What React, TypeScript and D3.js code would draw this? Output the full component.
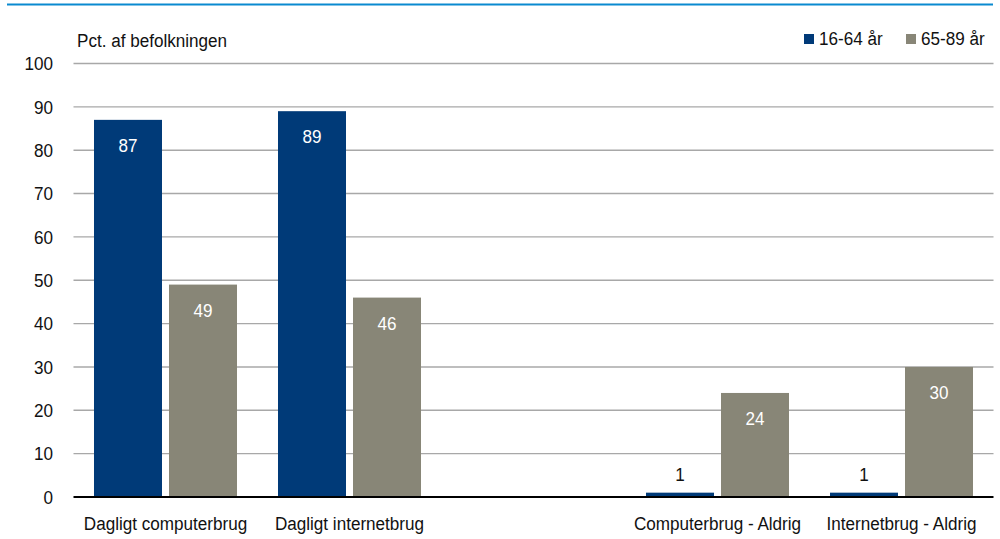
import * as d3 from "d3";

// chart data
const categories = ["Dagligt computerbrug", "Dagligt internetbrug", "", "Computerbrug - Aldrig", "Internetbrug - Aldrig"];
const seriesNames = ["16-64 år", "65-89 år"];
const young = [87, 89, null, 1, 1];
const old = [49, 46, null, 24, 30];
const yTicks = [0, 10, 20, 30, 40, 50, 60, 70, 80, 90, 100];

const colors = ["#003a78", "#888677"];
const font = "'Liberation Sans', Arial, sans-serif";

// the original text is a bit narrow, so squeeze it horizontally
const Label = ({ x, y, anchor = "start", fill = "#111", dy, children }: any) => (
  <text
    transform={`translate(${x},${y}) scale(0.9,1)`}
    textAnchor={anchor}
    fontSize={19}
    fill={fill}
    dy={dy}
  >
    {children}
  </text>
);

const App = () => {
  const width = 1000;
  const height = 539;
  const margin = { top: 63.5, right: 6.5, bottom: 42, left: 73.5 };

  const x0 = d3.scaleBand<string>()
    .domain(categories.map((c, i) => `${i}`))
    .range([margin.left, width - margin.right])
    .padding(0);

  const x1 = d3.scaleBand<string>()
    .domain(seriesNames)
    .range([0, x0.bandwidth()])
    .paddingInner(0.0933)
    .paddingOuter(0.2733);

  const y = d3.scaleLinear()
    .domain([0, 100])
    .range([height - margin.bottom, margin.top]);

  const series = [young, old];

  return (
    <svg width={width} height={height} style={{ position: "absolute", left: 0, top: 0 }} fontFamily={font}>
      <rect width={width} height={height} fill="#fff" />
      {/* top rule */}
      <line x1={7} x2={993} y1={4.5} y2={4.5} stroke="#0a8ad0" strokeWidth={2.2} />

      <Label x={77} y={47}>Pct. af befolkningen</Label>

      {/* gridlines + y ticks */}
      {yTicks.map(t => (
        <g key={t}>
          {t > 0 && (
            <line x1={margin.left} x2={width - margin.right} y1={y(t)} y2={y(t)} stroke="#a8a8a8" strokeWidth={1.4} />
          )}
          <Label x={53} y={y(t)} dy="0.36em" anchor="end">{t}</Label>
        </g>
      ))}

      {/* bars */}
      {categories.map((c, i) => (
        <g key={i} transform={`translate(${x0(`${i}`)},0)`}>
          {series.map((s, j) => {
            const v = s[i];
            if (v == null) return null;
            const bx = x1(seriesNames[j]) as number;
            const bw = x1.bandwidth();
            const top = y(v);
            const inside = y(0) - top > 40;
            return (
              <g key={j}>
                <rect x={bx} y={top} width={bw} height={y(0) - top} fill={colors[j]} />
                <Label
                  x={bx + bw / 2}
                  y={inside ? top + 32 : top - 11.5}
                  anchor="middle"
                  fill={inside ? "#fff" : "#111"}
                >
                  {v}
                </Label>
              </g>
            );
          })}
          <Label x={x0.bandwidth() / 2} y={530} anchor="middle">{c}</Label>
        </g>
      ))}

      {/* x axis */}
      <line x1={margin.left} x2={width - margin.right} y1={y(0)} y2={y(0)} stroke="#000" strokeWidth={2} />

      {/* legend */}
      {seriesNames.map((n, i) => {
        const lx = [804, 906][i];
        return (
          <g key={n}>
            <rect x={lx} y={34} width={10} height={10} fill={colors[i]} />
            <Label x={lx + 15} y={45}>{n}</Label>
          </g>
        );
      })}
    </svg>
  );
};

export default App;
